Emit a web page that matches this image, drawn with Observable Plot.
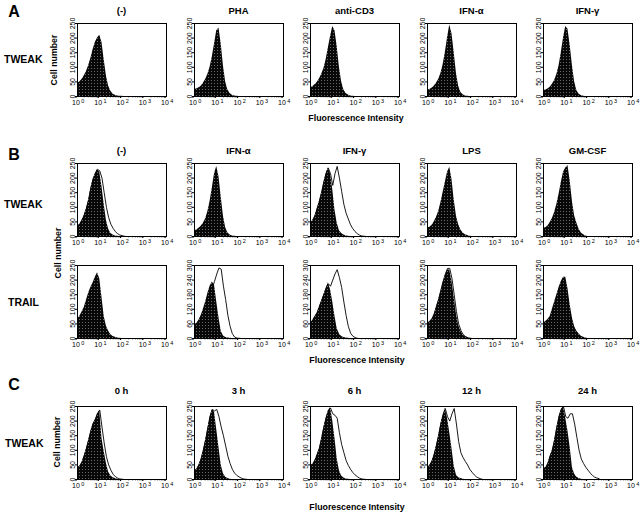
<!DOCTYPE html>
<html><head><meta charset="utf-8">
<script src="https://cdn.jsdelivr.net/npm/d3@7"></script>
<script src="https://cdn.jsdelivr.net/npm/@observablehq/plot@0.6"></script>
<style>
body{margin:0;background:#fff;}
#fig{position:relative;width:640px;height:512px;overflow:hidden;font-family:"Liberation Sans",Arial,sans-serif;}
#fig svg.p{position:absolute;}
</style></head><body><div id="fig"></div>
<script>
// histogram bins (log10 of fluorescence intensity)
const logBins = [0,0.1,0.2,0.3,0.4,0.5,0.6,0.7,0.8,0.9,1.0,1.1,1.2,1.3,1.4,1.5,1.6,1.7,1.8,1.9,2.0,2.1,2.2,2.3,2.4,2.5];

// Panel A – TWEAK
const A_ctrl   = [45,50,58,70,85,105,130,160,185,200,210,185,125,70,35,18,8,4,2,1,1,0,0,0,0,0];
const A_pha    = [25,26,30,35,45,58,75,100,135,180,225,235,180,105,50,22,10,4,2,1,0,0,0,0,0,0];
const A_cd3    = [30,33,40,48,60,75,95,125,165,205,240,225,170,100,50,22,10,5,2,1,0,0,0,0,0,0];
const A_ifna   = [22,24,28,35,45,58,78,108,150,200,245,215,150,80,35,14,6,2,1,0,0,0,0,0,0,0];
const A_ifng   = [20,22,26,32,42,55,75,105,150,200,240,230,175,105,50,20,8,3,1,0,0,0,0,0,0,0];

// Panel B – TWEAK
const B_tw_ctrl_f = [35,42,55,72,95,125,165,195,215,230,220,170,110,55,25,10,5,2,1,0,0,0,0,0,0,0];
const B_tw_ctrl_o = [35,42,55,72,95,125,165,195,215,230,225,200,150,100,65,42,28,17,10,5,3,1,0,0,0,0];
const B_tw_ifna_f = [20,22,28,35,45,60,85,120,165,215,240,205,135,70,30,12,5,2,1,0,0,0,0,0,0,0];
const B_tw_ifng_f = [45,55,70,95,120,150,185,215,235,215,160,90,45,20,10,5,2,1,0,0,0,0,0,0,0,0];
const B_tw_ifng_o = [45,55,70,95,120,150,185,215,235,215,175,215,240,200,155,110,80,60,40,27,17,10,5,2,1,0];
const B_tw_lps_f  = [30,32,38,50,65,85,115,150,185,220,237,195,125,70,40,22,12,6,3,1,0,0,0,0,0,0];
const B_tw_gm_f   = [28,30,36,48,62,82,110,145,185,220,235,243,190,120,70,45,25,12,6,2,0,0,0,0,0,0];

// Panel B – TRAIL
const B_tr_ctrl_f = [66,75,90,105,130,155,175,190,210,225,205,140,75,42,25,13,7,4,2,1,0,0,0,0,0,0];
const B_tr_ifna_f = [58,62,75,95,120,150,185,215,232,220,150,85,30,10,4,2,1,0,0,0,0,0,0,0,0,0];
const B_tr_ifna_o = [55,58,65,80,100,125,150,180,205,235,265,290,285,215,160,95,50,20,6,2,1,0,0,0,0,0];
const B_tr_ifng_f = [62,75,90,105,130,155,180,205,229,200,150,90,40,18,8,4,2,1,0,0,0,0,0,0,0,0];
const B_tr_ifng_o = [62,75,90,105,130,155,180,205,225,215,240,265,283,250,210,150,95,50,22,10,4,1,0,0,0,0];
const B_tr_lps_f  = [52,58,65,80,105,130,160,190,215,235,235,195,140,85,45,25,12,6,3,1,0,0,0,0,0,0];
const B_tr_lps_o  = [52,58,68,85,110,135,165,195,220,240,240,205,150,92,50,28,14,7,3,1,0,0,0,0,0,0];
const B_tr_gm_f   = [52,58,65,75,100,125,150,175,195,210,210,170,115,70,40,25,15,8,4,2,0,0,0,0,0,0];

// Panel C – TWEAK time course
const C_0h_f  = [41,45,58,80,105,134,165,190,205,225,236,140,95,55,25,12,6,3,1,0,0,0,0,0,0,0];
const C_0h_o  = [41,45,58,80,105,134,165,190,205,225,238,180,125,78,50,32,18,10,5,2,1,0,0,0,0,0];
const C_3h_f  = [30,35,50,70,100,135,175,215,240,230,170,110,50,20,8,3,1,0,0,0,0,0,0,0,0,0];
const C_3h_o  = [30,35,50,70,100,135,175,215,240,235,240,215,180,150,115,80,55,35,22,14,9,5,2,1,0,0];
const C_6h_f  = [48,52,65,85,106,140,178,210,235,247,200,140,70,30,12,5,2,1,0,0,0,0,0,0,0,0];
const C_6h_o  = [48,52,65,85,106,140,178,210,235,245,225,220,210,160,120,92,65,48,35,24,16,10,5,2,1,0];
const C_12h_f = [41,48,62,85,115,150,190,220,243,210,160,105,45,15,6,3,1,0,0,0,0,0,0,0,0,0];
const C_12h_o = [41,48,62,85,115,150,190,220,243,215,200,225,243,190,130,92,75,62,50,35,25,16,9,5,2,0];
const C_24h_f = [38,40,55,80,100,135,178,215,240,250,210,165,110,40,18,8,3,1,0,0,0,0,0,0,0,0];
const C_24h_o = [38,40,55,80,100,135,178,215,240,250,215,210,225,225,190,144,100,70,55,42,32,22,14,8,5,3];

// labels
const titlesA = ["(-)","PHA","anti-CD3","IFN-α","IFN-γ"];
const titlesB = ["(-)","IFN-α","IFN-γ","LPS","GM-CSF"];
const titlesC = ["0 h","3 h","6 h","12 h","24 h"];
const panelLetters = ["A","B","C"];
const rowLabels = ["TWEAK","TWEAK","TRAIL","TWEAK"];
const ticks250 = [0,50,100,150,200,250];
const ticks300 = [0,60,120,180,240,300];
const majorX = [1,10,100,1000,10000];
const exponents = ["0","1","2","3","4"];

const hists = [
  {row:0,col:0,filled:A_ctrl,ymax:250},
  {row:0,col:1,filled:A_pha,ymax:250},
  {row:0,col:2,filled:A_cd3,ymax:250},
  {row:0,col:3,filled:A_ifna,ymax:250},
  {row:0,col:4,filled:A_ifng,ymax:250},
  {row:1,col:0,filled:B_tw_ctrl_f,open:B_tw_ctrl_o,ymax:250},
  {row:1,col:1,filled:B_tw_ifna_f,ymax:250},
  {row:1,col:2,filled:B_tw_ifng_f,open:B_tw_ifng_o,ymax:250},
  {row:1,col:3,filled:B_tw_lps_f,ymax:250},
  {row:1,col:4,filled:B_tw_gm_f,ymax:250},
  {row:2,col:0,filled:B_tr_ctrl_f,ymax:250},
  {row:2,col:1,filled:B_tr_ifna_f,open:B_tr_ifna_o,ymax:300},
  {row:2,col:2,filled:B_tr_ifng_f,open:B_tr_ifng_o,ymax:300},
  {row:2,col:3,filled:B_tr_lps_f,open:B_tr_lps_o,ymax:250},
  {row:2,col:4,filled:B_tr_gm_f,ymax:250},
  {row:3,col:0,filled:C_0h_f,open:C_0h_o,ymax:250},
  {row:3,col:1,filled:C_3h_f,open:C_3h_o,ymax:250},
  {row:3,col:2,filled:C_6h_f,open:C_6h_o,ymax:250},
  {row:3,col:3,filled:C_12h_f,open:C_12h_o,ymax:250},
  {row:3,col:4,filled:C_24h_f,open:C_24h_o,ymax:250}
];

// layout
const colLeft = [77,194,310,427,543];
const rowTop = [23,163,265,406];
const FW = 89, FH = 73;
const mL = 26, mR = 8, mT = 4, mB = 14;

const minorX = [];
for (let e = 0; e < 4; e++) for (let m = 2; m < 10; m++) minorX.push(m * 10 ** e);

const fig = document.getElementById("fig");
fig.innerHTML = `<svg width="0" height="0" style="position:absolute"><defs><pattern id="stip" width="3" height="3" patternUnits="userSpaceOnUse"><rect width="3" height="3" fill="#080808"/><rect x="1" y="1" width="1" height="1" fill="#6a6a6a"/></pattern></defs></svg>`;

const toRows = arr => arr.map((v, i) => ({x: 10 ** logBins[i], y: v}));
const FONT = "'Liberation Sans',Arial,sans-serif";
const expLabels = majorX.map((v, i) => ({x: v, e: exponents[i]}));

for (const h of hists) {
  const marks = [];
  if (h.open) marks.push(Plot.lineY(toRows(h.open), {x: "x", y: "y", stroke: "#000", strokeWidth: 0.9}));
  marks.push(Plot.areaY(toRows(h.filled), {x: "x", y: "y", fill: "url(#stip)"}));
  marks.push(Plot.frame({stroke: "#000", strokeWidth: 1}));
  marks.push(Plot.axisY({ticks: h.ymax === 300 ? ticks300 : ticks250, tickSize: 2, tickPadding: 1, tickRotate: -90,
    textAnchor: "middle", lineAnchor: "bottom", fontSize: 7, label: null}));
  marks.push(Plot.axisX({ticks: majorX, tickFormat: () => "10", tickSize: 2, tickPadding: 2, fontSize: 7, dx: -1.5, label: null}));
  marks.push(Plot.axisX({ticks: minorX, tickFormat: () => "", tickSize: 1.3, label: null}));
  marks.push(Plot.text(expLabels, {x: "x", text: "e", frameAnchor: "bottom", dy: 5, dx: 3.8, fontSize: 5.5, lineAnchor: "middle", textAnchor: "start"}));
  const svg = Plot.plot({
    width: FW + mL + mR, height: FH + mT + mB,
    marginLeft: mL, marginRight: mR, marginTop: mT, marginBottom: mB,
    x: {type: "log", domain: [1, 10000]},
    y: {domain: [0, h.ymax]},
    style: {background: "none", overflow: "visible", fontFamily: FONT, color: "#000"},
    marks
  });
  svg.classList.add("p");
  svg.style.left = (colLeft[h.col] - mL) + "px";
  svg.style.top = (rowTop[h.row] - mT) + "px";
  fig.appendChild(svg);
}

// text overlay
const NS = "http://www.w3.org/2000/svg";
const ov = document.createElementNS(NS, "svg");
ov.setAttribute("width", 640); ov.setAttribute("height", 512);
ov.style.cssText = "position:absolute;left:0;top:0;";
fig.appendChild(ov);
function txt(s, x, y, size, opts = {}) {
  const t = document.createElementNS(NS, "text");
  t.textContent = s;
  t.setAttribute("x", x); t.setAttribute("y", y);
  t.setAttribute("font-size", size);
  t.setAttribute("font-weight", "bold");
  t.setAttribute("font-family", FONT);
  t.setAttribute("text-anchor", opts.anchor || "middle");
  t.setAttribute("dominant-baseline", "central");
  if (opts.rotate) t.setAttribute("transform", `rotate(${opts.rotate},${x},${y})`);
  ov.appendChild(t);
}
const titleY = [10, 150, null, 390];
[titlesA, titlesB, null, titlesC].forEach((ts, r) => {
  if (!ts) return;
  ts.forEach((s, c) => txt(s, colLeft[c] + FW / 2, titleY[r], 9.5));
});
const letterY = [11, 154, 384];
panelLetters.forEach((s, i) => txt(s, 14, letterY[i], 16));
const rowLabelY = [59, 204, 302, 443];
const rowLabelX = [4, 4, 8, 5];
rowLabels.forEach((s, i) => txt(s, rowLabelX[i], rowLabelY[i], 10.5, {anchor: "start"}));
[[54, 60], [58, 253], [57, 442]].forEach(([x, y]) => txt("Cell number", x, y, 8.8, {rotate: -90}));
[[356, 118], [357, 360], [357, 507]].forEach(([x, y]) => txt("Fluorescence Intensity", x, y, 8.8));
</script></body></html>
